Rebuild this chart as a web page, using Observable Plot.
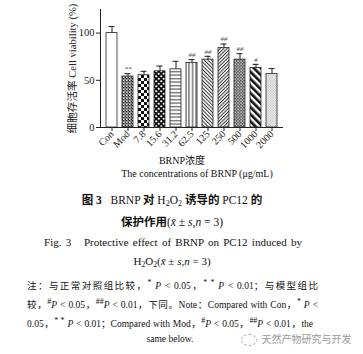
<!DOCTYPE html>
<html><head><meta charset="utf-8">
<script src="https://cdn.jsdelivr.net/npm/d3@7"></script>
<script src="https://cdn.jsdelivr.net/npm/@observablehq/plot@0.6"></script>
<style>
body{margin:0;background:#fff;}
#wrap{position:relative;width:363px;height:354px;overflow:hidden;font-family:"Liberation Serif","Noto Sans CJK SC",serif;color:#111;}
.t{position:absolute;white-space:nowrap;}
.j{text-align:justify;text-align-last:justify;white-space:normal;}
sub{font-size:70%;vertical-align:-2px;line-height:0;}
i{font-style:italic;}
</style></head><body><div id="wrap"></div>
<script>
// ---- data ----
const groups = ["Con","Mod","7.8","15.6","31.2","62.5","125","250","500","1000","2000"];
const means  = [100, 54, 55.3, 59.5, 61.6, 68.3, 71.9, 84.1, 71.9, 63, 56.7];
const sds    = [7, 3, 4.2, 5.6, 8.5, 3.6, 3.5, 4.3, 6.3, 3.9, 5.7];
const sigs   = ["", "**", "", "", "", "##", "##", "##", "##", "#", ""];
const yTicks = [0, 50, 100];
const yLabel = "细胞存活率 Cell viability (%)";
const xTitle1 = "BRNP浓度";
const xTitle2 = "The concentrations of BRNP (μg/mL)";

// ---- styles (patterns per bar) ----
const fills = ["white","url(#pMod)","url(#p78)","url(#p156)","url(#p312)","url(#p625)","url(#p125)","url(#p250)","url(#p500)","url(#p1000)","url(#p2000)"];

const data = groups.map((g,i)=>({g, m:means[i], s:sds[i], top:means[i]+sds[i], sig:sigs[i], pat:fills[i]}));
const FONT = '"Liberation Serif","Noto Sans CJK SC",serif';

const svg = Plot.plot({
  width:363, height:152, marginTop:9, marginBottom:25, marginLeft:100, marginRight:80,
  style:{fontFamily:FONT, fontSize:"10px", color:"#222", background:"transparent", overflow:"visible"},
  x:{domain:groups, paddingInner:0.32, paddingOuter:0.28, label:null},
  y:{domain:[0,125], label:null},
  color:{type:"identity"},
  marks:[
    Plot.barY(data,{x:"g", y:"m", fill:"pat", stroke:"#222", strokeWidth:0.8}),
    Plot.ruleX(data,{x:"g", y1:"m", y2:"top", stroke:"#222", strokeWidth:1}),
    Plot.tickY(data,{x:"g", y:"top", stroke:"#222", strokeWidth:1, insetLeft:2.5, insetRight:2.5}),
    Plot.text(data,{x:"g", y:"top", text:"sig", dy:-5, fontSize:7, fontStyle:"italic", fill:"#444"}),
    Plot.axisY({ticks:yTicks, tickSize:4, tickPadding:2, fontSize:10.5, label:null}),
    Plot.axisY({ticks:[], tickSize:0, fontSize:10.6, label:yLabel, labelAnchor:"center", labelArrow:"none", labelOffset:32}),
    Plot.axisX({tickSize:4, tickRotate:-45, tickPadding:1, fontSize:10, label:null}),
    Plot.ruleY([0], {stroke:"#222"}),
    Plot.frame({anchor:"left", stroke:"#222"})
  ]
});

const defs = document.createElementNS("http://www.w3.org/2000/svg","defs");
defs.innerHTML = `
<pattern id="pMod" width="3" height="3" patternUnits="userSpaceOnUse"><rect width="3" height="3" fill="#fff"/><rect width="1.5" height="1.5" fill="#222"/><rect x="1.5" y="1.5" width="1.5" height="1.5" fill="#222"/><rect x="1.5" y="0" width="1.5" height="1.5" fill="#777"/></pattern>
<pattern id="p78" width="6" height="6" patternUnits="userSpaceOnUse"><rect width="6" height="6" fill="#fff"/><rect width="3" height="3" fill="#111"/><rect x="3" y="3" width="3" height="3" fill="#111"/></pattern>
<pattern id="p156" width="5" height="5" patternUnits="userSpaceOnUse"><rect width="5" height="5" fill="#111"/><circle cx="1.25" cy="1.25" r="1.1" fill="#fff"/><circle cx="3.75" cy="3.75" r="1.1" fill="#fff"/></pattern>
<pattern id="p312" width="4" height="3.5" patternUnits="userSpaceOnUse"><rect width="4" height="3.5" fill="#fff"/><rect y="1.2" width="4" height="0.9" fill="#222"/></pattern>
<pattern id="p625" width="3.6" height="4" patternUnits="userSpaceOnUse"><rect width="3.6" height="4" fill="#fff"/><rect x="1.3" width="0.9" height="4" fill="#222"/></pattern>
<pattern id="p125" width="2.6" height="4" patternUnits="userSpaceOnUse" patternTransform="rotate(-45)"><rect width="2.6" height="4" fill="#fff"/><rect width="1" height="4" fill="#333"/></pattern>
<pattern id="p250" width="2.4" height="4" patternUnits="userSpaceOnUse" patternTransform="rotate(45)"><rect width="2.4" height="4" fill="#fff"/><rect width="1" height="4" fill="#333"/></pattern>
<pattern id="p500" width="3" height="3" patternUnits="userSpaceOnUse"><rect width="3" height="3" fill="#666"/><rect x="0.5" y="0.5" width="1.2" height="1.2" fill="#fff"/><rect x="2" y="2" width="0.8" height="0.8" fill="#ddd"/></pattern>
<pattern id="p1000" width="5" height="6" patternUnits="userSpaceOnUse" patternTransform="rotate(-45)"><rect width="5" height="6" fill="#fff"/><rect width="2.6" height="6" fill="#111"/></pattern>
<pattern id="p2000" width="2.5" height="2.5" patternUnits="userSpaceOnUse"><rect width="2.5" height="2.5" fill="#fff"/><rect width="1.2" height="1.2" fill="#aaa"/><rect x="1.25" y="1.25" width="1.2" height="1.2" fill="#bbb"/></pattern>`;
svg.insertBefore(defs, svg.firstChild);
svg.style.position = "absolute"; svg.style.left = "0"; svg.style.top = "0";

const wrap = document.getElementById("wrap");
wrap.appendChild(svg);

function place(html, o){
  const d = document.createElement("div");
  d.className = "t" + (o.justify ? " j" : "");
  const lh = o.lh || Math.round(o.size*1.3);
  d.style.fontSize = o.size + "px";
  d.style.lineHeight = lh + "px";
  d.style.top = (o.cy - lh/2) + "px";
  if (o.justify) { d.style.left = o.left + "px"; d.style.width = o.width + "px"; }
  else { d.style.left = (o.cx - 170) + "px"; d.style.width = "340px"; d.style.textAlign = "center"; }
  if (o.weight) d.style.fontWeight = o.weight;
  if (o.color) d.style.color = o.color;
  if (o.ls) d.style.letterSpacing = o.ls;
  if (o.ws) d.style.wordSpacing = o.ws;
  d.innerHTML = html;
  wrap.appendChild(d);
  return d;
}
const xbar = '<i>x&#772;</i>';
place(xTitle1, {cx:182, cy:160, size:10});
place(xTitle2, {cx:197, cy:173, size:10});
place('<b>图 3</b>&nbsp;&nbsp;&nbsp;BRNP <b>对</b> H<sub>2</sub>O<sub>2</sub> <b>诱导的</b> PC12 <b>的</b>', {cx:172, cy:200, size:11.5});
place('<b>保护作用</b>(' + xbar + ' ± <i>s</i>,<i>n</i> = 3)', {cx:172, cy:222, size:11.5});
place('Fig. 3&nbsp;&nbsp;&nbsp;Protective effect of BRNP on PC12 induced by', {cx:173, cy:242, size:11, ws:"1.5px"});
place('H<sub>2</sub>O<sub>2</sub>(' + xbar + ' ± <i>s</i>,<i>n</i> = 3)', {cx:172, cy:261, size:11});
place('注：与正常对照组比较，<sup>*</sup> <i>P</i> &lt; 0.05，<sup>* *</sup> <i>P</i> &lt; 0.01；与模型组比', {left:27, width:291, cy:283, size:9.5, justify:true});
place('较，<sup>#</sup><i>P</i> &lt; 0.05，<sup>##</sup><i>P</i> &lt; 0.01，下同。Note：Compared with Con，<sup>*</sup> <i>P</i> &lt;', {left:27, width:291, cy:302, size:9.5, justify:true});
place('0.05，<sup>* *</sup> <i>P</i> &lt; 0.01；Compared with Mod，<sup>#</sup><i>P</i> &lt; 0.05，<sup>##</sup><i>P</i> &lt; 0.01，the', {left:27, width:286, cy:321, size:9.5, justify:true});
place('same below.', {cx:170, cy:339, size:9.5});
place('<span style="display:inline-block;width:14px;height:10px;border:1px dashed #aaa;border-radius:50%;vertical-align:middle;margin-right:5px"></span>天然产物研究与开发', {cx:296, cy:339, size:10, color:"#999"});
</script></body></html>
